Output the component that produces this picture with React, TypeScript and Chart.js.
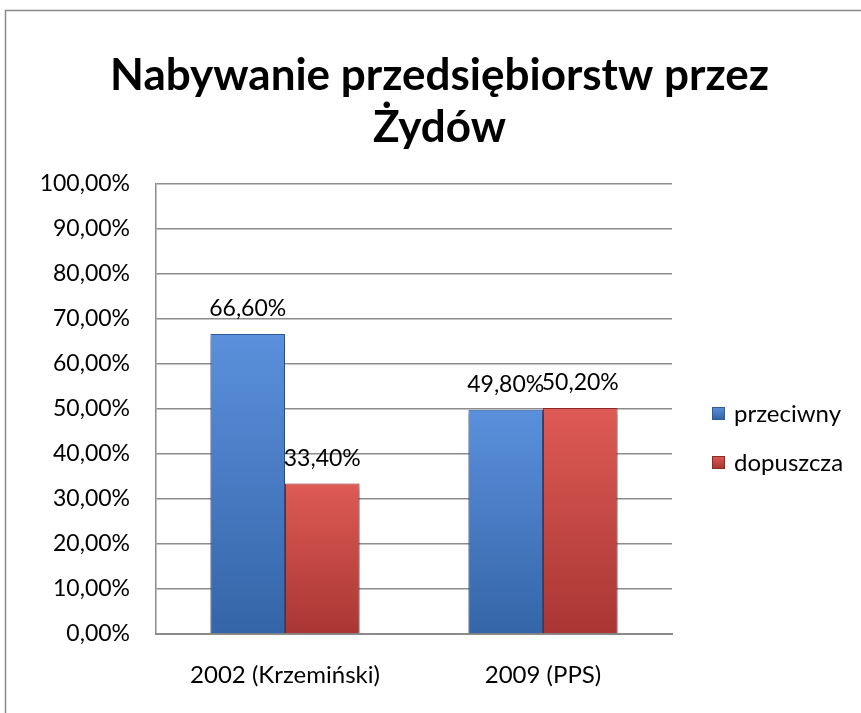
import React, { useEffect, useRef } from "react";
import { Chart, registerables } from "chart.js";

Chart.register(...registerables);

const titleLines = ["Nabywanie przedsiębiorstw przez", "Żydów"];
const categories = ["2002 (Krzemiński)", "2009 (PPS)"];
const seriesNames = ["przeciwny", "dopuszcza"];
const przeciwny = [66.6, 49.8];
const dopuszcza = [33.4, 50.2];
const yMin = 0;
const yMax = 100;
const yStep = 10;

const FONT = "Lato, 'Open Sans', sans-serif";
const seriesColors = [
  { top: "#5a90dc", bottom: "#3565a8", border: "#2f5a96", legend: "#4a80cc" },
  { top: "#de5a55", bottom: "#a93633", border: "#8c2a28", legend: "#c9413d" },
];

const fmt = (v: number) => v.toFixed(2).replace(".", ",") + "%";

function barFill(seriesIndex: number) {
  return (ctx: any) => {
    const chart = ctx.chart;
    const area = chart.chartArea;
    const c = seriesColors[seriesIndex];
    if (!area || !ctx.parsed) return c.legend;
    const yScale = chart.scales.y;
    const top = yScale.getPixelForValue(ctx.parsed.y);
    const bottom = yScale.getPixelForValue(0);
    const g = chart.ctx.createLinearGradient(0, top, 0, bottom);
    g.addColorStop(0, c.top);
    g.addColorStop(1, c.bottom);
    return g;
  };
}

const framePlugin = {
  id: "frame",
  beforeDraw(chart: any) {
    const ctx = chart.ctx;
    ctx.save();
    ctx.fillStyle = "#ffffff";
    ctx.fillRect(0, 0, chart.width, chart.height);
    ctx.strokeStyle = "#8a8a8a";
    ctx.lineWidth = 1.5;
    ctx.beginPath();
    ctx.moveTo(5.5, chart.height + 5);
    ctx.lineTo(5.5, 10.5);
    ctx.lineTo(chart.width + 5, 10.5);
    ctx.stroke();
    ctx.restore();
  },
};

const shadowPlugin = {
  id: "barShadow",
  beforeDatasetsDraw(chart: any) {
    const ctx = chart.ctx;
    ctx.save();
    ctx.shadowColor = "rgba(0,0,0,0.35)";
    ctx.shadowBlur = 5;
    ctx.shadowOffsetY = 3;
  },
  afterDatasetsDraw(chart: any) {
    chart.ctx.restore();
  },
};

const labelPlugin = {
  id: "valueLabels",
  afterDatasetsDraw(chart: any) {
    const ctx = chart.ctx;
    ctx.save();
    ctx.font = `23px ${FONT}`;
    ctx.fillStyle = "#000000";
    ctx.textAlign = "center";
    ctx.textBaseline = "alphabetic";
    chart.data.datasets.forEach((ds: any, di: number) => {
      const meta = chart.getDatasetMeta(di);
      meta.data.forEach((bar: any, i: number) => {
        ctx.fillText(fmt(ds.data[i]), bar.x, bar.y - 18);
      });
    });
    ctx.restore();
  },
};

const legendPlugin = {
  id: "customLegend",
  afterDraw(chart: any) {
    const ctx = chart.ctx;
    ctx.save();
    ctx.font = `24px ${FONT}`;
    ctx.textBaseline = "middle";
    ctx.textAlign = "left";
    const x = 712;
    const ys = [413, 462];
    chart.data.datasets.forEach((ds: any, di: number) => {
      const c = seriesColors[di];
      const y = ys[di];
      const g = ctx.createLinearGradient(x, y - 6, x, y + 6);
      g.addColorStop(0, c.top);
      g.addColorStop(1, c.bottom);
      ctx.fillStyle = g;
      ctx.fillRect(x, y - 6, 13, 13);
      ctx.strokeStyle = c.border;
      ctx.lineWidth = 1;
      ctx.strokeRect(x + 0.5, y - 5.5, 12, 12);
      ctx.fillStyle = "#000000";
      ctx.fillText(ds.label, x + 22, y + 1);
    });
    ctx.restore();
  },
};

export default function App() {
  const ref = useRef<HTMLCanvasElement | null>(null);
  useEffect(() => {
    if (!ref.current) return;
    const chart = new Chart(ref.current, {
      type: "bar",
      data: {
        labels: categories,
        datasets: [
          {
            label: seriesNames[0],
            data: przeciwny,
            backgroundColor: barFill(0),
            borderColor: seriesColors[0].border,
            borderWidth: 1,
          },
          {
            label: seriesNames[1],
            data: dopuszcza,
            backgroundColor: barFill(1),
            borderColor: seriesColors[1].border,
            borderWidth: 1,
          },
        ],
      },
      options: {
        animation: false,
        responsive: false,
        maintainAspectRatio: false,
        layout: { padding: { left: 18, right: 0, top: 0, bottom: 0 } },
        datasets: {
          bar: { categoryPercentage: 0.578, barPercentage: 1 },
        },
        plugins: {
          legend: { display: false },
          tooltip: { enabled: false },
          title: {
            display: true,
            text: titleLines,
            color: "#000000",
            font: { family: FONT, size: 44, weight: "bold", lineHeight: 1.2 },
            padding: { top: 49, bottom: 29 },
          },
        },
        scales: {
          x: {
            grid: { display: false, drawTicks: false },
            border: { display: true, color: "#8c8c8c", width: 2 },
            ticks: {
              color: "#000000",
              font: { family: FONT, size: 24 },
              padding: 27,
            },
            afterFit: (s: any) => {
              s.height = 79;
            },
          },
          y: {
            min: yMin,
            max: yMax,
            ticks: {
              stepSize: yStep,
              color: "#000000",
              font: { family: FONT, size: 23 },
              padding: 26,
              callback: (v: any) => fmt(Number(v)),
            },
            grid: { color: "#8c8c8c", lineWidth: 1.5, drawTicks: false },
            border: { display: true, color: "#8c8c8c", width: 1.5 },
            afterFit: (s: any) => {
              s.width = 138;
            },
          },
          legendSpace: {
            type: "linear",
            position: "right",
            display: true,
            grid: { display: false, drawTicks: false },
            border: { display: false },
            ticks: { display: false },
            afterFit: (s: any) => {
              s.width = 189;
            },
          },
        },
      },
      plugins: [framePlugin, shadowPlugin, labelPlugin, legendPlugin],
    });
    return () => chart.destroy();
  }, []);
  return (
    <div style={{ position: "absolute", left: 0, top: 0, width: 861, height: 713 }}>
      <canvas ref={ref} width={861} height={713} style={{ width: 861, height: 713 }} />
    </div>
  );
}
